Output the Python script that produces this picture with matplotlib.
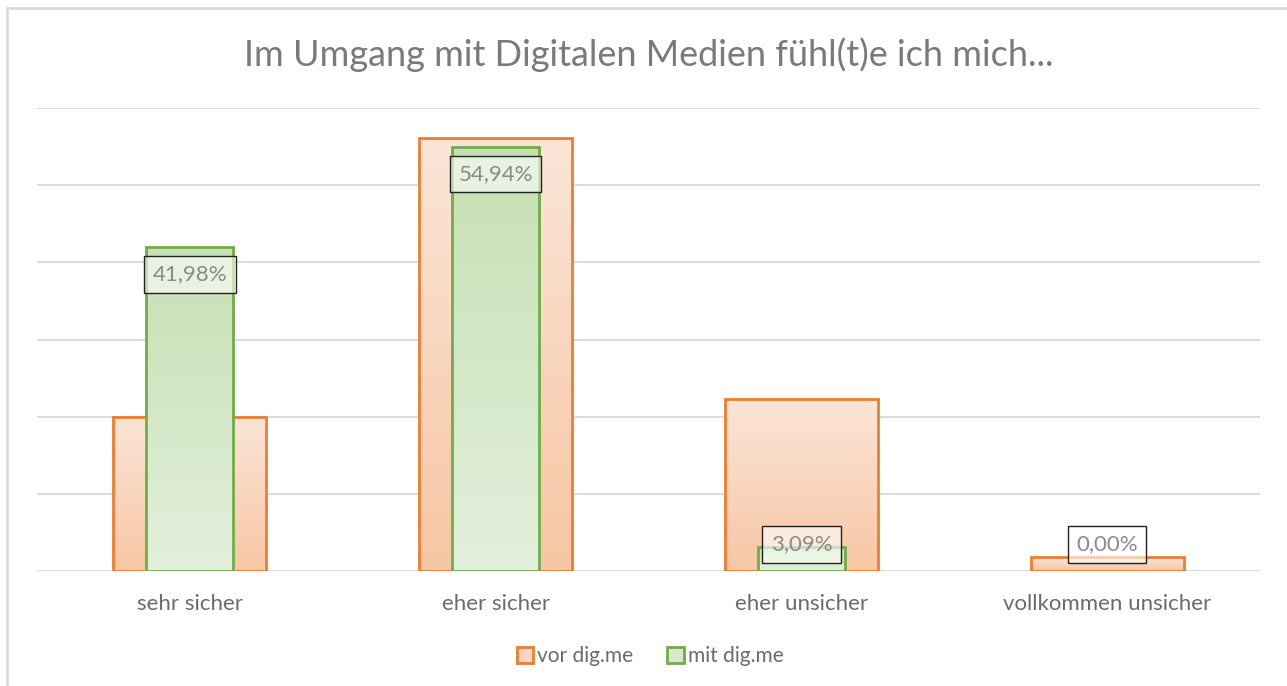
import numpy as np
import matplotlib
matplotlib.use('Agg')
import matplotlib.pyplot as plt
from matplotlib.patches import Rectangle, Patch
from matplotlib.colors import LinearSegmentedColormap

plt.rcParams['font.family'] = ['Lato', 'DejaVu Sans']

categories = ['sehr sicher', 'eher sicher', 'eher unsicher', 'vollkommen unsicher']
vor = [20.0, 56.1, 22.3, 1.8]
mit = [41.98, 54.94, 3.09, 0.00]
mit_labels = ['41,98%', '54,94%', '3,09%', '0,00%']
series_names = ['vor dig.me', 'mit dig.me']

fig = plt.figure(figsize=(12.87, 6.86), dpi=100)
ax = fig.add_axes([37/1287, 1-571/686, (1260-37)/1287, (571-108)/686])

x = np.arange(len(categories))

# outer chart frame
fig.patches.append(Rectangle((7/1287, -0.1), 1.2, 1.1 - 8/686, transform=fig.transFigure,
                             fill=False, edgecolor='#d9d9d9', linewidth=2, zorder=0))

b_vor = ax.bar(x, vor, width=0.5, facecolor='none', edgecolor='#ed7d31', linewidth=2, zorder=3)
b_mit = ax.bar(x, mit, width=0.285, facecolor='none', edgecolor='#70ad47', linewidth=2, zorder=5)

cm_vor = LinearSegmentedColormap.from_list('vor', ['#f7c6a4', '#fbe5d7'])
cm_mit = LinearSegmentedColormap.from_list('mit', ['#e3f0dc', '#c5e0b3'])
grad = np.linspace(0, 1, 256).reshape(-1, 1)

def fill_gradient(bars, cmap, z):
    for r in bars:
        h = r.get_height()
        if h <= 0:
            continue
        x0 = r.get_x()
        im = ax.imshow(grad, cmap=cmap, origin='lower', aspect='auto',
                       extent=[x0, x0 + r.get_width(), 0, h], zorder=z)
        im.set_clip_path(r)

fill_gradient(b_vor, cm_vor, 2)
fill_gradient(b_mit, cm_mit, 4)

for r in b_mit:
    if r.get_height() <= 0:
        r.set_visible(False)

ax.set_xlim(-0.5, 3.5)
ax.set_ylim(0, 60)
ax.set_yticks(np.arange(0, 61, 10))
ax.yaxis.grid(True, color='#d9d9d9', linewidth=1.3)
ax.set_axisbelow(True)
ax.tick_params(left=False, bottom=False, labelleft=False)
for s in ax.spines.values():
    s.set_visible(False)
ax.set_xticks(x)
ax.set_xticklabels(categories, fontsize=16, color='#6b6b6b')
ax.tick_params(axis='x', pad=13)

for xi, v, lab in zip(x, mit, mit_labels):
    yc = max(v - 3.5, 3.43)
    ax.text(xi, yc, lab, ha='center', va='center', fontsize=16, color='#8a8a8a', zorder=6,
            bbox=dict(boxstyle='square,pad=0.38', facecolor=(1, 1, 1, 0.6),
                      edgecolor='#222222', linewidth=1))

fig.text(649/1287, 1-55/686, 'Im Umgang mit Digitalen Medien fühl(t)e ich mich...',
         ha='center', va='center', fontsize=26, color='#7a7a7a')

handles = [Patch(facecolor='#f9d6bf', edgecolor='#ed7d31', linewidth=2),
           Patch(facecolor='#d6e9cb', edgecolor='#70ad47', linewidth=2)]
fig.legend(handles, series_names, loc='center', bbox_to_anchor=(650/1287, 1-656/686),
           ncol=2, frameon=False, fontsize=15, labelcolor='#6b6b6b',
           handlelength=0.8, handleheight=0.8, handletextpad=0.2, columnspacing=1.6)

fig.savefig('out.png', dpi=100)
